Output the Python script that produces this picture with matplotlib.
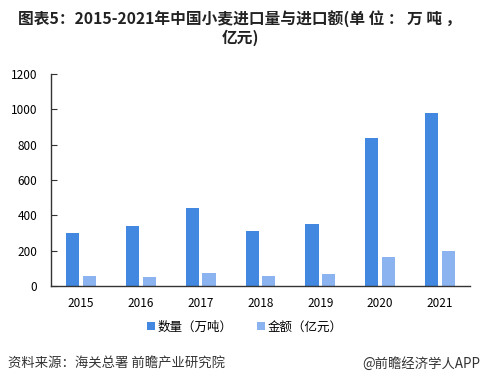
import matplotlib
matplotlib.use("Agg")
import matplotlib.pyplot as plt
import numpy as np

plt.rcParams['font.family'] = ['Noto Sans CJK SC', 'DejaVu Sans']

years = ['2015', '2016', '2017', '2018', '2019', '2020', '2021']
quantity = [300.6, 341.2, 442.2, 310.2, 348.8, 838.2, 977.0]
amount = [57, 51, 74, 57, 68, 164, 198]
series_names = ['数量（万吨）', '金额（亿元）']
yticks = [0, 200, 400, 600, 800, 1000, 1200]

fig = plt.figure(figsize=(4.8, 3.85), dpi=100)
ax = fig.add_axes([51/480, 1-286/385, 419/480, 212/385])

x = np.arange(len(years))
w = 0.22
ax.bar(x - 0.14, quantity, w, color='#4388e0', label=series_names[0])
ax.bar(x + 0.14, amount, w, color='#8ab3f0', label=series_names[1])

ax.set_xlim(-0.5, len(years) - 0.5)
ax.set_ylim(0, 1200)
ax.set_yticks(yticks)
ax.set_xticks(x)
ax.set_xticklabels(years)
for s in ['top', 'right']:
    ax.spines[s].set_visible(False)
for s in ['left', 'bottom']:
    ax.spines[s].set_color('#333333')
    ax.spines[s].set_linewidth(1.0)
ax.tick_params(axis='y', direction='in', length=4, color='#333333', labelsize=8.5, pad=10)
ax.tick_params(axis='x', length=0, labelsize=8.5, pad=8)

fig.text(0.5, 1-20/385, '图表5：2015-2021年中国小麦进口量与进口额(单 位 ： 万 吨 ，',
         ha='center', va='center', fontsize=11.3, fontweight='bold', color='#222222')
fig.text(0.5, 1-38/385, '亿元)', ha='center', va='center', fontsize=11.3,
         fontweight='bold', color='#222222')

fig.legend(loc='center', bbox_to_anchor=(0.51, 1-327/385), ncol=2, frameon=False,
           fontsize=9, handlelength=0.6, handleheight=0.6, handletextpad=0.2,
           columnspacing=2.0)

fig.text(8/480, 1-364/385, '资料来源：海关总署 前瞻产业研究院', ha='left', va='center',
         fontsize=9.6, color='#333333')
fig.text(480/480, 1-364/385, '@前瞻经济学人APP', ha='right', va='center',
         fontsize=9.6, color='#333333')

fig.savefig('out.png', dpi=100)
